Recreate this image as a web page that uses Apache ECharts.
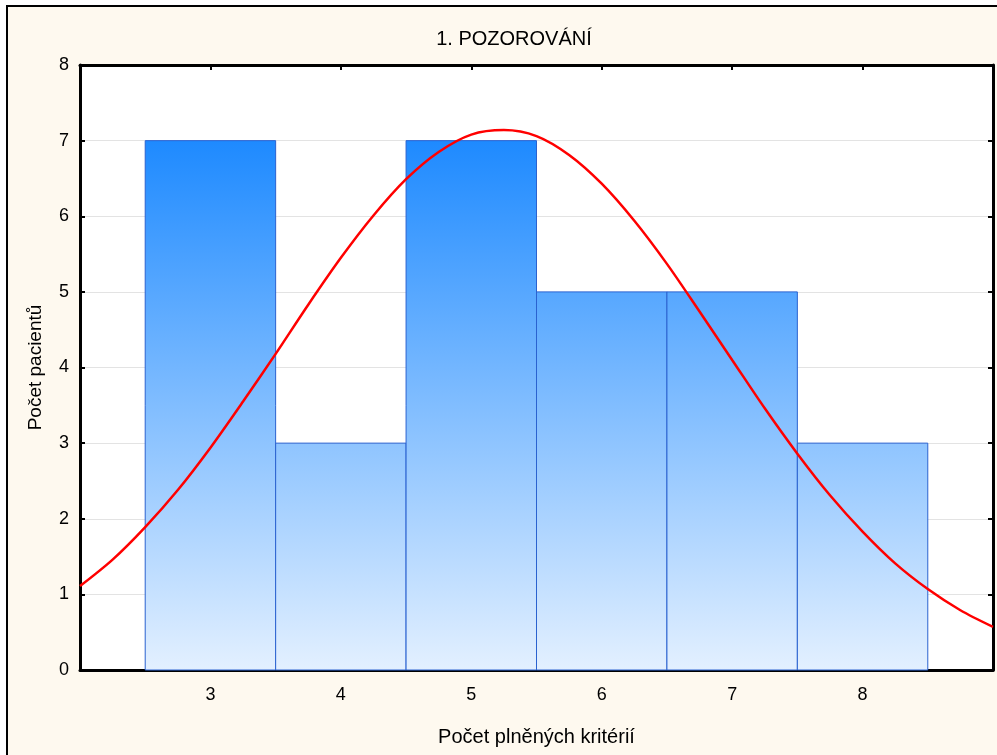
<!DOCTYPE html>
<html><head><meta charset="utf-8">
<script src="https://cdn.jsdelivr.net/npm/echarts@6/dist/echarts.min.js"></script>
<style>
html,body{margin:0;padding:0;background:#fff;}
#frame{position:absolute;left:6px;top:5px;width:1200px;height:1000px;border-left:2px solid #000;border-top:2px solid #000;background:#FEF9EF;}
#wrap{position:absolute;left:0;top:0;width:997px;height:755px;overflow:hidden;}
#chart{position:absolute;left:0;top:0;width:997px;height:755px;}
</style></head>
<body>
<div id="wrap"><div id="frame"></div><div id="chart"></div></div>
<script>
// Histogram bins (centre, count)
const binCenters = [3, 4, 5, 6, 7, 8];
const binCounts = [7, 3, 7, 5, 5, 3];
const binWidth = 1;
// Fitted normal curve
const curveX = [2.0,2.25,2.5,2.75,3.0,3.25,3.5,3.75,4.0,4.25,4.5,4.75,5.0,5.25,5.5,5.75,6.0,6.25,6.5,6.75,7.0,7.25,7.5,7.75,8.0,8.25,8.5,8.75,9.0];
const curveY = [1.11,1.46,1.89,2.38,2.94,3.55,4.18,4.83,5.45,6.01,6.49,6.85,7.08,7.14,7.06,6.81,6.43,5.94,5.37,4.74,4.10,3.46,2.86,2.31,1.83,1.41,1.07,0.79,0.57];
const xTicks = [3, 4, 5, 6, 7, 8];
const yTicks = [0, 1, 2, 3, 4, 5, 6, 7, 8];

const FONT = '"Liberation Sans", Arial, sans-serif';
const chart = echarts.init(document.getElementById('chart'), null, {renderer: 'canvas'});

const barData = binCenters.map((c, i) => [c - binWidth / 2, c + binWidth / 2, binCounts[i]]);
const curveData = curveX.map((x, i) => [x, curveY[i]]);

const axisLineStyle = {show: true, onZero: false, lineStyle: {color: '#000', width: 3}};
const tickStyle = {show: true, inside: true, length: 5, lineStyle: {color: '#000', width: 2}};

const option = {
  backgroundColor: 'transparent',
  animation: false,
  title: {
    text: '1. POZOROVÁNÍ', left: 509, top: 24, textAlign: 'center',
    textStyle: {fontFamily: FONT, fontSize: 20, fontWeight: 'normal', color: '#000'}
  },
  grid: {left: 80, right: 4, top: 65, bottom: 85, show: true, backgroundColor: '#fff', borderWidth: 0},
  xAxis: [{
    type: 'value', min: 2, max: 9, interval: 1,
    name: 'Počet plněných kritérií', nameLocation: 'middle', nameGap: 57,
    nameTextStyle: {fontFamily: FONT, fontSize: 20, color: '#000'},
    axisLine: axisLineStyle,
    axisTick: tickStyle,
    axisLabel: {fontFamily: FONT, fontSize: 18, color: '#000', margin: 16,
      formatter: v => xTicks.includes(v) ? String(v) : ''},
    splitLine: {show: false}
  }, {
    type: 'value', min: 2, max: 9, interval: 1, position: 'top',
    axisLine: axisLineStyle,
    axisTick: tickStyle,
    axisLabel: {show: false}, splitLine: {show: false}
  }],
  yAxis: [{
    type: 'value', min: 0, max: 8, interval: 1,
    name: 'Počet pacientů', nameLocation: 'middle', nameGap: 35,
    nameTextStyle: {fontFamily: FONT, fontSize: 19, color: '#000'},
    axisLine: axisLineStyle,
    axisTick: tickStyle,
    axisLabel: {fontFamily: FONT, fontSize: 18, color: '#000', margin: 11,
      formatter: v => yTicks.includes(v) ? String(v) : ''},
    splitLine: {show: true, lineStyle: {color: '#E3E3E3', width: 1}}
  }, {
    type: 'value', min: 0, max: 8, interval: 1, position: 'right',
    axisLine: axisLineStyle,
    axisTick: tickStyle,
    axisLabel: {show: false}, splitLine: {show: false}
  }],
  series: [{
    type: 'custom',
    xAxisIndex: 0, yAxisIndex: 0,
    data: barData,
    renderItem: function (params, api) {
      const p0 = api.coord([api.value(0), api.value(2)]);
      const p1 = api.coord([api.value(1), 0]);
      const gTop = api.coord([0, 7])[1];
      const gBot = api.coord([0, 0])[1];
      return {
        type: 'rect',
        shape: {x: p0[0], y: p0[1], width: p1[0] - p0[0], height: p1[1] - p0[1]},
        style: {
          fill: new echarts.graphic.LinearGradient(0, gTop, 0, gBot, [
            {offset: 0, color: '#1E8AFF'},
            {offset: 1, color: '#E3F0FF'}
          ], true),
          stroke: '#2A62D0', lineWidth: 1
        }
      };
    },
    z: 2
  }, {
    type: 'line',
    xAxisIndex: 0, yAxisIndex: 0,
    data: curveData, smooth: 0.3, showSymbol: false, symbol: 'none',
    lineStyle: {color: '#FF0000', width: 2.5},
    clip: true, z: 3
  }]
};
chart.setOption(option);
</script>
</body></html>
